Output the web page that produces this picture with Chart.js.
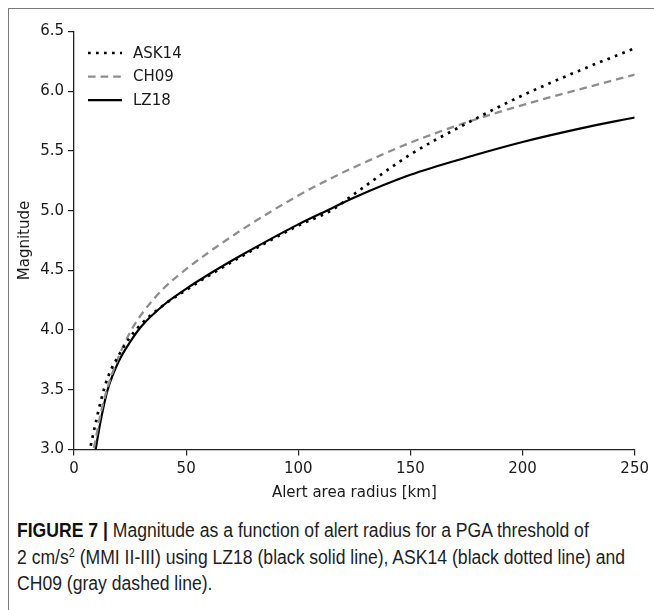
<!DOCTYPE html>
<html><head><meta charset="utf-8">
<script src="https://cdn.jsdelivr.net/npm/chart.js@4.4.0/dist/chart.umd.min.js"></script>
<style>
html,body{margin:0;padding:0;background:#fff;}
#fig{position:relative;width:654px;height:610px;overflow:hidden;background:#fff;}
#frame{position:absolute;left:8px;top:8px;width:700px;height:700px;border-left:1.5px solid #7a7a7a;border-top:1.5px solid #7a7a7a;}
#wrap{position:absolute;left:0;top:0;width:654px;height:510px;}
#c{display:block;}
#cap{position:absolute;left:17px;top:517px;font-family:"Liberation Sans",Arial,sans-serif;font-size:19.5px;line-height:26.5px;color:#1e1e1e;white-space:nowrap;transform-origin:0 0;}
#cap b{font-weight:bold;color:#111;}
#cap sup{font-size:12px;line-height:0;vertical-align:7px;}
#cap span{display:inline-block;}
</style></head>
<body>
<div id="fig">
<div id="frame"></div>
<div id="wrap"><canvas id="c" width="654" height="510"></canvas></div>
<div id="cap"><span id="l1"><b>FIGURE 7 |</b> Magnitude as a function of alert radius for a PGA threshold of</span><br><span id="l2">2 cm/s<sup>2</sup> (MMI II-III) using LZ18 (black solid line), ASK14 (black dotted line) and</span><br><span id="l3">CH09 (gray dashed line).</span></div>
</div>
<script>
// ---- data ----
const radiusKm = [6, 8, 10, 12, 15, 20, 25, 30, 40, 50, 60, 75, 100, 115, 125, 150, 175, 200, 225, 250];
const ask14 = [2.90, 3.08, 3.25, 3.41, 3.60, 3.79, 3.94, 4.05, 4.21, 4.335, 4.455, 4.62, 4.875, 5.005, 5.14, 5.47, 5.73, 5.965, 6.17, 6.36];
const ch09  = [2.70, 2.92, 3.12, 3.31, 3.52, 3.78, 3.98, 4.13, 4.35, 4.51, 4.65, 4.842, 5.127, 5.274, 5.364, 5.569, 5.739, 5.884, 6.014, 6.139];
const lz18  = [2.55, 2.82, 3.04, 3.25, 3.50, 3.74, 3.90, 4.03, 4.21, 4.345, 4.465, 4.63, 4.885, 5.02, 5.11, 5.30, 5.445, 5.575, 5.685, 5.78];
const seriesLabels = ['ASK14', 'CH09', 'LZ18'];
const xTicks = [0, 50, 100, 150, 200, 250];
const yTicks = [3.0, 3.5, 4.0, 4.5, 5.0, 5.5, 6.0, 6.5];
const xTitle = 'Alert area radius [km]';
const yTitle = 'Magnitude';

const pts = arr => radiusKm.map((r, i) => ({x: r, y: arr[i]}));

// fit caption width (condensed look)
(function(){
  const cap = document.getElementById('cap');
  const w2 = document.getElementById('l2').getBoundingClientRect().width;
  const k = 608 / w2;
  cap.style.transform = 'scaleX(' + k + ')';
})();

Chart.defaults.font.family = '"DejaVu Sans", sans-serif';
Chart.defaults.font.size = 15;
Chart.defaults.color = '#1a1a1a';

const inLegend = {
  id: 'inLegend',
  afterDatasetsDraw(chart) {
    const ctx = chart.ctx, a = chart.chartArea;
    chart.data.datasets.forEach((ds, i) => {
      const y = a.top + 21.5 + i * 23.6;
      ctx.save();
      ctx.strokeStyle = ds.borderColor;
      ctx.lineWidth = ds.borderWidth;
      ctx.setLineDash(ds.borderDash || []);
      ctx.lineCap = 'butt';
      ctx.beginPath();
      ctx.moveTo(a.left + 14, y);
      ctx.lineTo(a.left + 48, y);
      ctx.stroke();
      ctx.setLineDash([]);
      ctx.fillStyle = '#1a1a1a';
      ctx.font = '15px "DejaVu Sans"';
      ctx.textBaseline = 'middle';
      ctx.fillText(ds.label, a.left + 59, y + 1);
      ctx.restore();
    });
  }
};

new Chart(document.getElementById('c'), {
  type: 'line',
  data: {
    datasets: [
      {label: seriesLabels[0], data: pts(ask14), borderColor: '#000', borderWidth: 2.7, borderDash: [2.7, 5.3], borderCapStyle: 'butt'},
      {label: seriesLabels[1], data: pts(ch09), borderColor: '#8e8e8e', borderWidth: 2.3, borderDash: [7.6, 5], borderCapStyle: 'butt'},
      {label: seriesLabels[2], data: pts(lz18), borderColor: '#000', borderWidth: 2.2}
    ]
  },
  options: {
    responsive: false,
    animation: false,
    devicePixelRatio: 1,
    layout: {padding: {left: 10, top: 31.5, right: 18, bottom: 0}},
    elements: {point: {radius: 0}, line: {cubicInterpolationMode: 'monotone', fill: false}},
    plugins: {legend: {display: false}, tooltip: {enabled: false}},
    scales: {
      x: {
        type: 'linear', min: 0, max: 250,
        afterBuildTicks: s => { s.ticks = xTicks.map(v => ({value: v})); },
        afterFit: s => { s.height = 60.5; },
        grid: {display: true, drawOnChartArea: false, drawTicks: true, tickLength: 6, color: '#222', lineWidth: 1.2},
        border: {display: true, color: '#222', width: 1.3},
        ticks: {padding: 5, color: '#1a1a1a', font: {size: 15}},
        title: {display: true, text: xTitle, color: '#1a1a1a', font: {size: 15}, padding: {top: 4, bottom: 8}}
      },
      y: {
        type: 'linear', min: 3, max: 6.5,
        afterBuildTicks: s => { s.ticks = yTicks.map(v => ({value: v})); },
        afterFit: s => { s.width = 64; },
        grid: {display: true, drawOnChartArea: false, drawTicks: true, tickLength: 6, color: '#222', lineWidth: 1.2},
        border: {display: true, color: '#222', width: 1.3},
        ticks: {padding: 4, color: '#1a1a1a', font: {size: 15}, callback: v => Number(v).toFixed(1)},
        title: {display: true, text: yTitle, color: '#1a1a1a', font: {size: 15}, padding: {top: 6, bottom: 4}}
      }
    }
  },
  plugins: [inLegend]
});
</script>
</body></html>
